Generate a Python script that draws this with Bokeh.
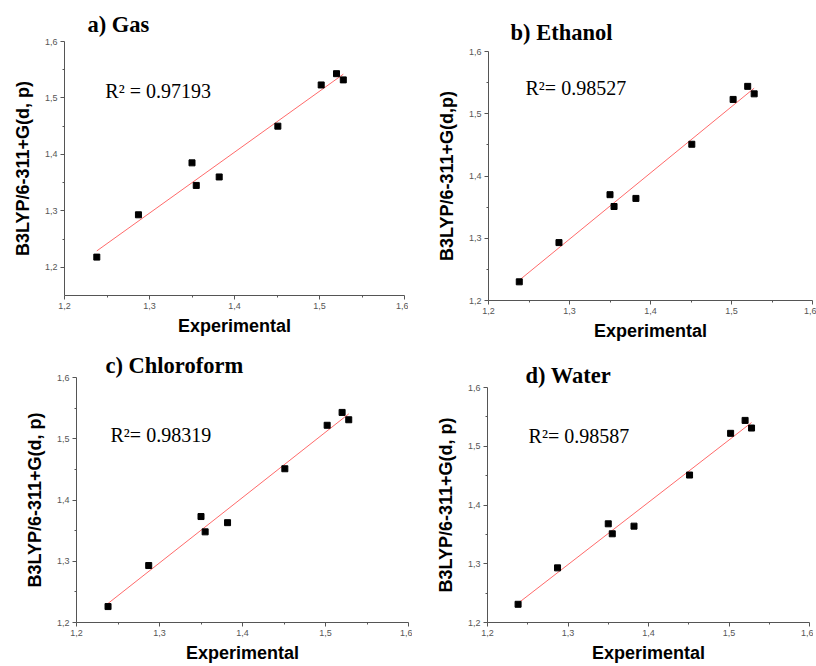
import numpy as np
from bokeh.plotting import figure
from bokeh.layouts import column, row
from bokeh.models import Range1d, FixedTicker, CustomJSTickFormatter, Label, Title
from bokeh.embed import file_html
from bokeh.resources import INLINE

# ---- data ----
experimental = [1.238, 1.287, 1.350, 1.355, 1.382, 1.451, 1.502, 1.520, 1.528]
gas = [1.218, 1.293, 1.385, 1.345, 1.360, 1.450, 1.523, 1.543, 1.532]
ethanol = [1.230, 1.293, 1.370, 1.351, 1.364, 1.451, 1.523, 1.544, 1.532]
chloroform = [1.226, 1.293, 1.373, 1.348, 1.363, 1.451, 1.522, 1.543, 1.531]
water = [1.231, 1.293, 1.368, 1.351, 1.364, 1.451, 1.522, 1.544, 1.531]

panel_titles = ["a) Gas", "b) Ethanol", "c) Chloroform", "d) Water"]
r2_texts = ["R\u00b2 = 0.97193", "R\u00b2= 0.98527", "R\u00b2= 0.98319", "R\u00b2= 0.98587"]
y_labels = ["B3LYP/6-311+G(d, p)", "B3LYP/6-311+G(d,p)", "B3LYP/6-311+G(d, p)", "B3LYP/6-311+G(d, p)"]
x_label = "Experimental"
major_ticks = [1.2, 1.3, 1.4, 1.5, 1.6]
minor_ticks = [1.25, 1.35, 1.45, 1.55]

AXIS_COLOR = "#555555"
SANS = "Liberation Sans"
SERIF = "Liberation Serif"
TITLE_SIZE = "22.5px"


def make_panel(yvals, title, r2, ylab, width, height, borders, ystart,
               title_offset, title_standoff, r2_pos):
    left, right, top, bottom = borders
    p = figure(width=width, height=height, output_backend="svg",
               toolbar_location=None, x_range=Range1d(1.2, 1.6),
               y_range=Range1d(ystart, 1.6),
               min_border_left=left, min_border_right=right,
               min_border_top=top, min_border_bottom=bottom)
    p.outline_line_color = None
    p.grid.visible = False
    p.background_fill_color = "white"
    p.border_fill_color = "white"
    p.title = Title(text=title, align="left", offset=title_offset,
                    standoff=title_standoff, text_font=SERIF,
                    text_font_style="bold", text_font_size=TITLE_SIZE,
                    text_color="black")
    fmt = CustomJSTickFormatter(code="return tick.toFixed(1).replace('.', ',');")
    for ax in (p.xaxis[0], p.yaxis[0]):
        ax.ticker = FixedTicker(ticks=major_ticks, minor_ticks=minor_ticks)
        ax.formatter = fmt
        ax.axis_line_color = AXIS_COLOR
        ax.major_tick_line_color = AXIS_COLOR
        ax.minor_tick_line_color = AXIS_COLOR
        ax.major_tick_in = 0
        ax.major_tick_out = 4
        ax.minor_tick_in = 0
        ax.minor_tick_out = 2
        ax.major_label_text_font = SANS
        ax.major_label_text_font_size = "9px"
        ax.major_label_text_color = "#555555"
        ax.major_label_standoff = 3
        ax.axis_label_text_font = SANS
        ax.axis_label_text_font_style = "bold"
        ax.axis_label_text_font_size = "18px"
        ax.axis_label_text_color = "black"
    p.yaxis[0].axis_label = ylab
    p.yaxis[0].axis_label_standoff = 9
    p.xaxis[0].axis_label = x_label
    p.xaxis[0].axis_label_standoff = 4

    # least-squares fit line through the data
    xs = np.array(experimental)
    ys = np.array(yvals)
    slope, intercept = np.polyfit(xs, ys, 1)
    fx = [xs.min(), xs.max()]
    fy = [slope * v + intercept for v in fx]
    p.line(fx, fy, line_color="#ff6a6a", line_width=1)
    p.scatter(experimental, yvals, marker="square", size=6,
              fill_color="black", line_color="black")

    p.add_layout(Label(x=r2_pos[0], y=r2_pos[1], text=r2,
                       text_font=SERIF, text_font_size="20px",
                       text_color="black", text_baseline="middle"))
    return p


pa = make_panel(gas, panel_titles[0], r2_texts[0], y_labels[0], 408, 345,
                (64, 4, 41, 50), 1.15, 23, 10, (1.248, 1.513))
pb = make_panel(ethanol, panel_titles[1], r2_texts[1], y_labels[1], 408, 345,
                (80, 4, 51, 45), 1.2, 22, 14, (1.2457, 1.542))
pc = make_panel(chloroform, panel_titles[2], r2_texts[2], y_labels[2], 412, 320,
                (76, 4, 32, 41), 1.2, 29, 0, (1.241, 1.506))
pd = make_panel(water, panel_titles[3], r2_texts[3], y_labels[3], 401, 320,
                (75, 4, 42, 40), 1.2, 38, 0, (1.251, 1.518))

layout = column(row(column(pa), column(pb)), row(column(pc), column(pd)))
open("out.html", "w").write(file_html(layout, INLINE))
